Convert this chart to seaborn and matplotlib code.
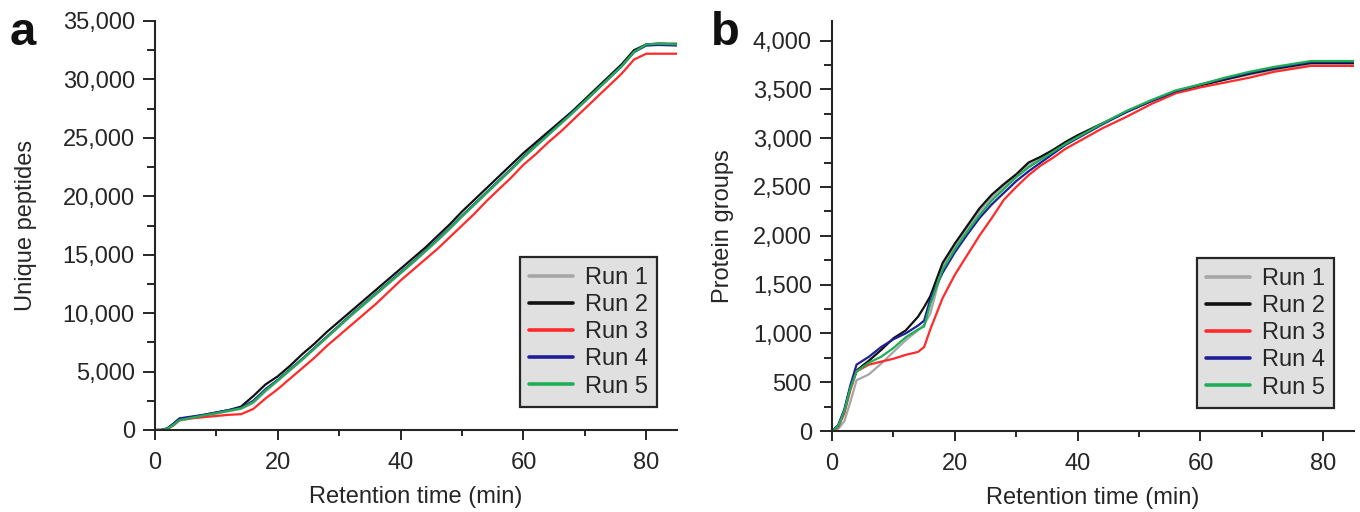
import numpy as np
import pandas as pd
import matplotlib
matplotlib.use("Agg")
import matplotlib.pyplot as plt
from matplotlib.ticker import MultipleLocator, FuncFormatter
import seaborn as sns

runs = ["Run 1", "Run 2", "Run 3", "Run 4", "Run 5"]
colors = ["#a6a6a6", "#111111", "#ff2a2a", "#1f1f9a", "#1fae55"]

# Panel a: unique peptides vs retention time
t_a = [0, 1, 2, 3, 4, 6, 8, 10, 12, 14, 16, 18, 20, 22, 24, 26, 28, 30, 32, 34, 36, 38, 40,
       42, 44, 46, 48, 50, 52, 54, 56, 58, 60, 62, 64, 66, 68, 70, 72, 74, 76, 78, 80, 82, 85]
pep_run1 = [0, 0, 80, 400, 800, 1000, 1200, 1400, 1600, 1800, 2300, 3300, 4200, 5100, 6000, 6950, 7900,
            8850, 9800, 10700, 11600, 12500, 13400, 14300, 15250, 16200, 17200, 18250, 19250, 20250,
            21250, 22250, 23300, 24250, 25200, 26150, 27100, 28100, 29100, 30100, 31100, 32300, 33000, 33100, 33100]
pep_run2 = [0, 0, 120, 500, 950, 1100, 1300, 1500, 1700, 2000, 2900, 3900, 4600, 5500, 6500, 7400, 8400,
            9300, 10200, 11100, 12000, 12900, 13800, 14700, 15600, 16600, 17600, 18700, 19700, 20700,
            21700, 22700, 23700, 24600, 25500, 26400, 27300, 28300, 29300, 30300, 31300, 32500, 33000, 33050, 33000]
pep_run3 = [0, 0, 80, 400, 850, 1000, 1100, 1200, 1300, 1350, 1800, 2700, 3500, 4400, 5300, 6200, 7200,
            8100, 9000, 9900, 10800, 11800, 12800, 13700, 14600, 15500, 16500, 17500, 18500, 19600,
            20600, 21600, 22700, 23600, 24600, 25500, 26500, 27500, 28500, 29500, 30500, 31700, 32200, 32200, 32200]
pep_run4 = [0, 0, 150, 550, 1000, 1150, 1300, 1500, 1700, 1900, 2500, 3500, 4300, 5200, 6100, 7050, 8000,
            8950, 9900, 10800, 11700, 12600, 13500, 14400, 15350, 16300, 17300, 18350, 19350, 20350,
            21350, 22350, 23400, 24350, 25300, 26250, 27200, 28150, 29150, 30150, 31150, 32350, 32900, 32950, 32900]
pep_run5 = [0, 0, 100, 450, 850, 1050, 1250, 1450, 1650, 1850, 2400, 3400, 4250, 5150, 6050, 7000, 7950,
            8900, 9850, 10750, 11650, 12550, 13450, 14350, 15300, 16250, 17250, 18300, 19300, 20300,
            21300, 22300, 23350, 24300, 25250, 26200, 27150, 28150, 29150, 30150, 31150, 32350, 33000, 33050, 33000]

# Panel b: protein groups vs retention time
t_b = [0, 1, 2, 3, 4, 6, 8, 10, 12, 13, 14, 15, 16, 18, 20, 22, 24, 26, 28, 30, 32, 34, 36, 38, 40,
       44, 48, 52, 56, 60, 64, 68, 72, 76, 78, 80, 85]
prot_run1 = [0, 20, 100, 300, 520, 580, 690, 810, 930, 980, 1030, 1090, 1200, 1680, 1890, 2070, 2250,
             2390, 2510, 2620, 2720, 2790, 2870, 2950, 3020, 3150, 3270, 3380, 3470, 3540, 3600, 3650,
             3700, 3740, 3760, 3760, 3760]
prot_run2 = [0, 50, 200, 450, 620, 720, 830, 950, 1030, 1100, 1170, 1270, 1380, 1720, 1920, 2100, 2280,
             2420, 2530, 2630, 2750, 2810, 2880, 2960, 3030, 3150, 3270, 3380, 3480, 3540, 3600, 3660,
             3710, 3750, 3770, 3770, 3770]
prot_run3 = [0, 40, 180, 420, 610, 680, 710, 740, 780, 795, 810, 860, 1040, 1360, 1600, 1800, 2000,
             2180, 2370, 2500, 2620, 2720, 2800, 2890, 2960, 3100, 3220, 3350, 3460, 3520, 3570, 3620,
             3680, 3720, 3740, 3740, 3740]
prot_run4 = [0, 60, 220, 470, 680, 760, 860, 940, 1000, 1040, 1080, 1130, 1350, 1620, 1830, 2010, 2180,
             2320, 2440, 2560, 2660, 2750, 2840, 2930, 3000, 3140, 3270, 3380, 3480, 3550, 3610, 3670,
             3720, 3760, 3780, 3780, 3780]
prot_run5 = [0, 50, 200, 440, 610, 700, 760, 850, 960, 1000, 1040, 1070, 1300, 1650, 1860, 2040, 2210,
             2360, 2480, 2600, 2700, 2780, 2860, 2940, 3010, 3150, 3280, 3390, 3490, 3550, 3620, 3680,
             3730, 3770, 3790, 3790, 3790]

def long_df(t, series):
    frames = []
    for name, vals in zip(runs, series):
        frames.append(pd.DataFrame({"t": t, "v": vals, "run": name}))
    return pd.concat(frames, ignore_index=True)

df_a = long_df(t_a, [pep_run1, pep_run2, pep_run3, pep_run4, pep_run5])
df_b = long_df(t_b, [prot_run1, prot_run2, prot_run3, prot_run4, prot_run5])

sns.set_theme(style="ticks")
plt.rcParams["font.family"] = ["Liberation Sans", "DejaVu Sans"]
plt.rcParams["axes.linewidth"] = 1.5

FS = 17
INK = "#262626"

fig = plt.figure(figsize=(13.6, 5.12), dpi=100)
ax_a = fig.add_axes([155/1360, 1-430/512, 522/1360, 409/512])
ax_b = fig.add_axes([832/1360, 1-431/512, 522/1360, 410/512])

palette = dict(zip(runs, colors))
fmt = FuncFormatter(lambda v, p: f"{int(v):,}")

for ax, df, ylab, ymax, ymaj, ymin, labx in [
        (ax_a, df_a, "Unique peptides", 35000, 5000, 2500, -0.226),
        (ax_b, df_b, "Protein groups", 4200, 500, 250, -0.188)]:
    sns.lineplot(data=df, x="t", y="v", hue="run", palette=palette, ax=ax,
                 linewidth=1.6, estimator=None, sort=False)
    ax.set_xlim(0, 85)
    ax.set_ylim(0, ymax)
    ax.xaxis.set_major_locator(MultipleLocator(20))
    ax.xaxis.set_minor_locator(MultipleLocator(10))
    ax.yaxis.set_major_locator(MultipleLocator(ymaj))
    ax.yaxis.set_minor_locator(MultipleLocator(ymin))
    ax.yaxis.set_major_formatter(fmt)
    ax.tick_params(which="both", direction="out", width=1.4, color=INK,
                   labelsize=FS, labelcolor=INK)
    ax.tick_params(axis="y", which="major", length=8.5, pad=6)
    ax.tick_params(axis="y", which="minor", length=5.5)
    ax.tick_params(axis="x", which="major", length=7.5, pad=8)
    ax.tick_params(axis="x", which="minor", length=4)
    ax.set_xlabel("Retention time (min)", fontsize=FS, color=INK, labelpad=9)
    ax.set_ylabel(ylab, fontsize=FS, color=INK)
    ax.yaxis.set_label_coords(labx, 0.5)
    sns.despine(ax=ax)
    for s in ["left", "bottom"]:
        ax.spines[s].set_color(INK)
    leg = ax.legend(loc="lower right", bbox_to_anchor=(0.962, 0.056), fontsize=FS,
                    frameon=True, fancybox=False, framealpha=1, edgecolor=INK,
                    facecolor="#e0e0e0", handlelength=1.85, handletextpad=0.5,
                    labelspacing=0.22, borderpad=0.4, borderaxespad=0.0, title=None)
    leg.get_frame().set_linewidth(1.6)
    for line in leg.get_lines():
        line.set_linewidth(2.6)

fig.text(10/1360, 1-45/512, "a", fontsize=34, fontweight="bold", va="baseline", ha="left", color="#111111")
fig.text(711/1360, 1-45/512, "b", fontsize=34, fontweight="bold", va="baseline", ha="left", color="#111111")

fig.savefig("out.png", dpi=100)
